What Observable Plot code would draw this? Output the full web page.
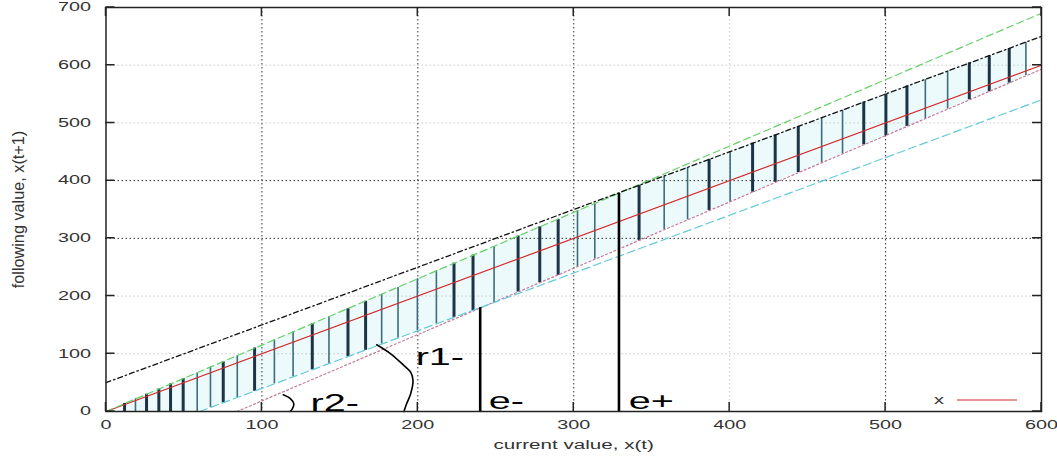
<!DOCTYPE html>
<html><head><meta charset="utf-8">
<script src="https://cdn.jsdelivr.net/npm/d3@7"></script>
<script src="https://cdn.jsdelivr.net/npm/@observablehq/plot@0.6"></script>
<style>html,body{margin:0;padding:0;background:#fff;overflow:hidden}</style>
</head><body><div id="chart"></div>
<script>
// ---- axes / ticks ----
const xTicks = [0, 100, 200, 300, 400, 500, 600];
const yTicks = [0, 100, 200, 300, 400, 500, 600, 700];
const gridXDark = [100, 200, 300, 500];
const gridXFaint = [400];
const gridYDark = [300, 400];
const gridYFaint = [100, 200, 500, 600];
const xLabel = "current value, x(t)";
const yLabel = "following value, x(t+1)";
const legendLabel = "x";

// ---- reference lines (endpoints) ----
const refNames = ["x", "upper1", "upper2", "lower1", "lower2"];
const refX0 = [0, 0, 0, 84, 60];
const refY0 = [0, 0, 50, 0, 0];
const refX1 = [600, 600, 600, 600, 600];
const refY1 = [600, 690, 650, 593, 540];

// ---- vertical interval bars ----
const barX = [11.9, 18.9, 26, 33.9, 41.4, 49.5, 58.5, 67, 75.2, 84.2, 95.3, 108, 120, 132.3, 143, 155.2, 166.5, 176.8, 187.3, 199.7, 211.9, 223.2, 235.4, 248.9, 264.3, 278.2, 290, 302.4, 313.5, 341.9, 358, 373, 386.8, 400.3, 414.7, 429.2, 444, 459, 472.4, 486, 500.2, 513.7, 525.5, 539.8, 553.7, 566.5, 579.3, 590];
const barLow = [0, 0, 0, 0, 0, 0, 0, 7, 15, 24, 35, 48, 60, 72, 83, 95, 106, 117, 127, 140, 152, 163, 175, 189, 207, 223, 236, 251, 264, 296, 315, 332, 348, 363, 380, 397, 414, 431, 446, 462, 478, 494, 507, 524, 540, 554, 569, 582];
const barHigh = [14, 22, 30, 39, 48, 57, 67, 77, 86, 97, 110, 124, 138, 152, 164, 178, 191, 203, 215, 230, 244, 257, 271, 286, 304, 320, 333, 348, 360, 392, 408, 423, 437, 450, 465, 479, 494, 509, 522, 536, 550, 564, 575, 590, 604, 616, 629, 640];
const barThick = [1,0,1,1,1,1,0,0,1,0,1,0, 0,1,0,1,1,0,0,0,0, 1,1,0,1,1,1,0,0, 1,0,0,1,0,1,1, 1,0,0,1,1,1,0,0, 1,1,1,0];

// ---- e-/e+ markers ----
const eNames = ["e-", "e+"];
const eX = [240, 329];
const eTop = [180, 378];

// ---- angle arcs ----
const r1ArcX = [173.6, 182.6, 191.1, 195.4, 196.9, 195.4, 192.8, 191.1];
const r1ArcY = [115.6, 100, 79.7, 68.1, 53.7, 30.7, 13.3, 0];
const r2ArcX = [113.7, 118.4, 120.5, 119.5, 118];
const r2ArcY = [28.9, 22, 13.3, 4.7, 0];

// ---- annotation labels ----
const annText = ["r1-", "r2-", "e-", "e+"];
const annX = [198.6, 131.2, 245.5, 335.3];
const annY = [81.4, 1.7, 4.7, 4.7];

// ---------- build tables ----------
const bars = barX.map((x, i) => ({x, low: barLow[i], high: barHigh[i], thick: barThick[i]}));
const eRows = eNames.map((n, i) => ({n, x: eX[i], top: eTop[i]}));
const r1Arc = r1ArcX.map((x, i) => ({x, y: r1ArcY[i]}));
const r2Arc = r2ArcX.map((x, i) => ({x, y: r2ArcY[i]}));
const ann = annText.map((t, i) => ({t, x: annX[i], y: annY[i]}));

const refStyle = {
  x:      {stroke: "#d42a2a", strokeWidth: 1.2},
  upper1: {stroke: "#66d066", strokeWidth: 1.2, strokeDasharray: "7,4"},
  upper2: {stroke: "#111111", strokeWidth: 1.3, strokeDasharray: "5,3,1.5,3"},
  lower1: {stroke: "#c4789a", strokeWidth: 1.2, strokeDasharray: "2,2.5"},
  lower2: {stroke: "#62cad8", strokeWidth: 1.2, strokeDasharray: "8,4"}
};
const refMarks = refNames.map((n, i) => Plot.line(
  [{x: refX0[i], y: refY0[i]}, {x: refX1[i], y: refY1[i]}],
  {x: "x", y: "y", ...refStyle[n]}
));

function tickMarks(index, scales, values, dims) {
  const {x, y} = scales;
  const L = dims.marginLeft, R = dims.width - dims.marginRight;
  const T = dims.marginTop, B = dims.height - dims.marginBottom;
  const len = 9;
  let d = "";
  for (const v of yTicks) { const py = y(v); d += `M${L},${py}h${len}M${R},${py}h${-len}`; }
  for (const v of xTicks) { const px = x(v); d += `M${px},${B}v${-len}M${px},${T}v${len}`; }
  return d3.create("svg:path").attr("d", d).attr("stroke", "#222").attr("stroke-width", 1.5).attr("fill", "none").node();
}

function legendMark(index, scales, values, dims) {
  const R = dims.width - dims.marginRight, B = dims.height - dims.marginBottom;
  const g = d3.create("svg:g");
  g.append("text").attr("transform", `translate(${R - 102},${B - 11}) scale(1.65,1)`)
    .attr("text-anchor", "middle").attr("dy", "0.32em").attr("font-size", 12).attr("fill", "#333")
    .text(legendLabel);
  g.append("line").attr("x1", R - 84).attr("x2", R - 24).attr("y1", B - 11).attr("y2", B - 11)
    .attr("stroke", refStyle.x.stroke).attr("stroke-width", 1.2);
  return g.node();
}

const svg = Plot.plot({
  width: 1057,
  height: 457,
  marginLeft: 105.5,
  marginRight: 16,
  marginTop: 7,
  marginBottom: 46,
  x: {domain: [0, 600], axis: null},
  y: {domain: [0, 700], axis: null},
  style: {fontFamily: "'Liberation Sans', Arial, sans-serif", background: "white", color: "#333"},
  marks: [
    Plot.areaY(bars, {x: "x", y1: "low", y2: "high", fill: "#ecfafc"}),
    Plot.ruleX(gridXFaint, {stroke: "#c8c8c8", strokeDasharray: "1.5,2.5"}),
    Plot.ruleY(gridYFaint, {stroke: "#c8c8c8", strokeDasharray: "1.5,2.5"}),
    Plot.ruleX(gridXDark, {stroke: "#333", strokeDasharray: "1.5,2.5"}),
    Plot.ruleY(gridYDark, {stroke: "#333", strokeDasharray: "1.5,2.5"}),
    Plot.ruleX(bars.filter(d => !d.thick), {x: "x", y1: "low", y2: "high", stroke: "#3b6d7a", strokeWidth: 1.6}),
    Plot.ruleX(bars.filter(d => d.thick), {x: "x", y1: "low", y2: "high", stroke: "#1d3346", strokeWidth: 3}),
    ...refMarks,
    Plot.ruleX(eRows, {x: "x", y1: 0, y2: "top", stroke: "#000", strokeWidth: 2.6}),
    Plot.line(r1Arc, {x: "x", y: "y", curve: "catmull-rom", stroke: "#000", strokeWidth: 1.6}),
    Plot.line(r2Arc, {x: "x", y: "y", curve: "catmull-rom", stroke: "#000", strokeWidth: 1.6}),
    Plot.text(ann, {x: "x", y: "y", text: "t", textAnchor: "start", lineAnchor: "bottom", fontSize: 24, fill: "#000"}),
    Plot.frame({stroke: "#222", strokeWidth: 1.5}),
    tickMarks,
    Plot.text(yTicks, {y: d => d, text: d => String(d), frameAnchor: "left", textAnchor: "end", lineAnchor: "middle", dx: -15, fontSize: 12, fill: "#333"}),
    Plot.text(xTicks, {x: d => d, text: d => String(d), frameAnchor: "bottom", textAnchor: "middle", lineAnchor: "middle", dy: 13.5, fontSize: 12, fill: "#333"}),
    Plot.text([xLabel], {frameAnchor: "bottom", textAnchor: "middle", lineAnchor: "middle", dy: 33, fontSize: 12.5, fill: "#333"}),
    Plot.text([yLabel], {frameAnchor: "left", textAnchor: "middle", lineAnchor: "middle", dx: -87, rotate: -90, fontSize: 13, fill: "#333"}),
    legendMark
  ]
});

// horizontal stretch of text, as in the reference picture
svg.querySelectorAll("text").forEach(t => {
  const tr = t.getAttribute("transform");
  if (!tr || tr.includes("scale")) return;
  const isY = tr.includes("rotate");
  t.setAttribute("transform", tr + (isY ? " scale(1.25,1.3)" : " scale(1.65,1)"));
});

document.getElementById("chart").appendChild(svg);
</script>
</body></html>
